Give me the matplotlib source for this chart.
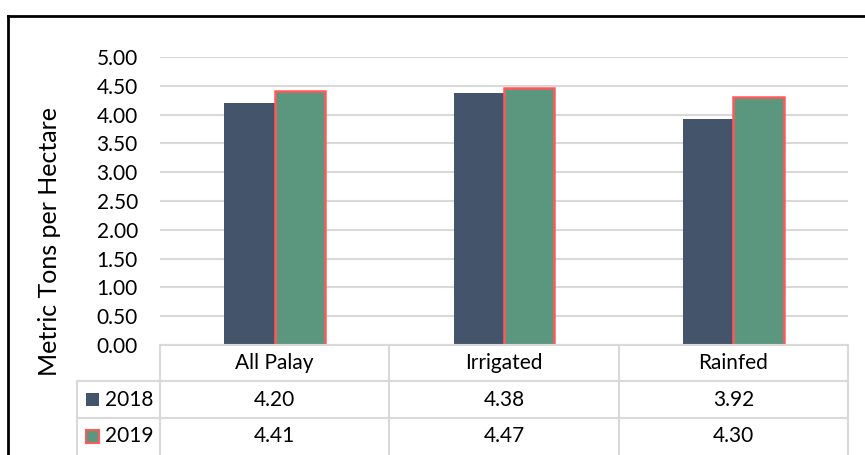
import matplotlib
matplotlib.use("Agg")
import matplotlib.pyplot as plt
from matplotlib.patches import Rectangle
from matplotlib.lines import Line2D
import matplotlib.transforms as mtransforms

categories = ["All Palay", "Irrigated", "Rainfed"]
series_names = ["2018", "2019"]
values_2018 = [4.20, 4.38, 3.92]
values_2019 = [4.41, 4.47, 4.30]
yticks = [0.0, 0.5, 1.0, 1.5, 2.0, 2.5, 3.0, 3.5, 4.0, 4.5, 5.0]

plt.rcParams['font.family'] = ['Lato', 'DejaVu Sans']
FS = 15

W, H = 865, 455
fig = plt.figure(figsize=(W / 100, H / 100), dpi=100)

def fx(px):
    return px / W

def fy(py):
    return 1 - py / H

ax = fig.add_axes([fx(160), fy(345), fx(848) - fx(160), fy(57) - fy(345)])
ax.set_xlim(-0.5, 2.5)
ax.set_ylim(0, 5)
for s in ax.spines.values():
    s.set_visible(False)
ax.set_yticks(yticks)
ax.set_yticklabels([f"{v:.2f}" for v in yticks], fontsize=FS, color="#000000")
ax.tick_params(axis='y', length=0, pad=16)
ax.set_xticks([])
ax.grid(axis='y', color="#D9D9D9", linewidth=1.5)
ax.set_axisbelow(True)

xs = list(range(len(categories)))
bw = 0.22
off = 0.11
c2018 = "#44546A"
c2019 = "#5B977F"
e2019 = "#FF5A5A"
ax.bar([x - off for x in xs], values_2018, width=bw, color=c2018, zorder=2)
ax.bar([x + off for x in xs], values_2019, width=bw, color=c2019,
       edgecolor=e2019, linewidth=1.8, zorder=3)

fig.text(fx(50), fy(242), "Metric Tons per Hectare", rotation=90,
         ha='center', va='center', fontsize=18)

# data table
grid_c = "#D9D9D9"
lw = 1.5
trans = mtransforms.blended_transform_factory(ax.transData, fig.transFigure)

def hline(x0, x1, y):
    fig.add_artist(Line2D([fx(x0), fx(x1)], [fy(y), fy(y)], color=grid_c, lw=lw))

def vline(x, y0, y1):
    fig.add_artist(Line2D([fx(x), fx(x)], [fy(y0), fy(y1)], color=grid_c, lw=lw))

row_y = [345, 381, 418, 455]
hline(160, 848, 345)
hline(77, 848, 381)
hline(77, 848, 418)
vline(77, 381, 455)
for i in range(len(categories) + 1):
    xpix = 160 + i * (848 - 160) / len(categories)
    vline(xpix, 345, 455)

for i, cat in enumerate(categories):
    ax.text(i, fy((345 + 381) / 2), cat, transform=trans, ha='center', va='center',
            fontsize=FS, clip_on=False)

rows = [values_2018, values_2019]
for r, vals in enumerate(rows):
    ymid = (row_y[r + 1] + row_y[r + 2]) / 2
    for i, v in enumerate(vals):
        ax.text(i, fy(ymid), f"{v:.2f}", transform=trans, ha='center', va='center',
                fontsize=FS, clip_on=False)
    # legend key
    fc = c2018 if r == 0 else c2019
    ec = c2018 if r == 0 else e2019
    fig.add_artist(Rectangle((fx(86), fy(ymid + 6.5)), fx(13), 13 / H,
                             facecolor=fc, edgecolor=ec, linewidth=1.5 if r else 0))
    fig.text(fx(105), fy(ymid), series_names[r], ha='left', va='center', fontsize=FS)

# outer border
fig.add_artist(Line2D([fx(8), fx(8)], [fy(16), 0], color="black", lw=2))
fig.add_artist(Line2D([fx(8), 1], [fy(16), fy(16)], color="black", lw=2))

fig.savefig("out.png", dpi=100)
